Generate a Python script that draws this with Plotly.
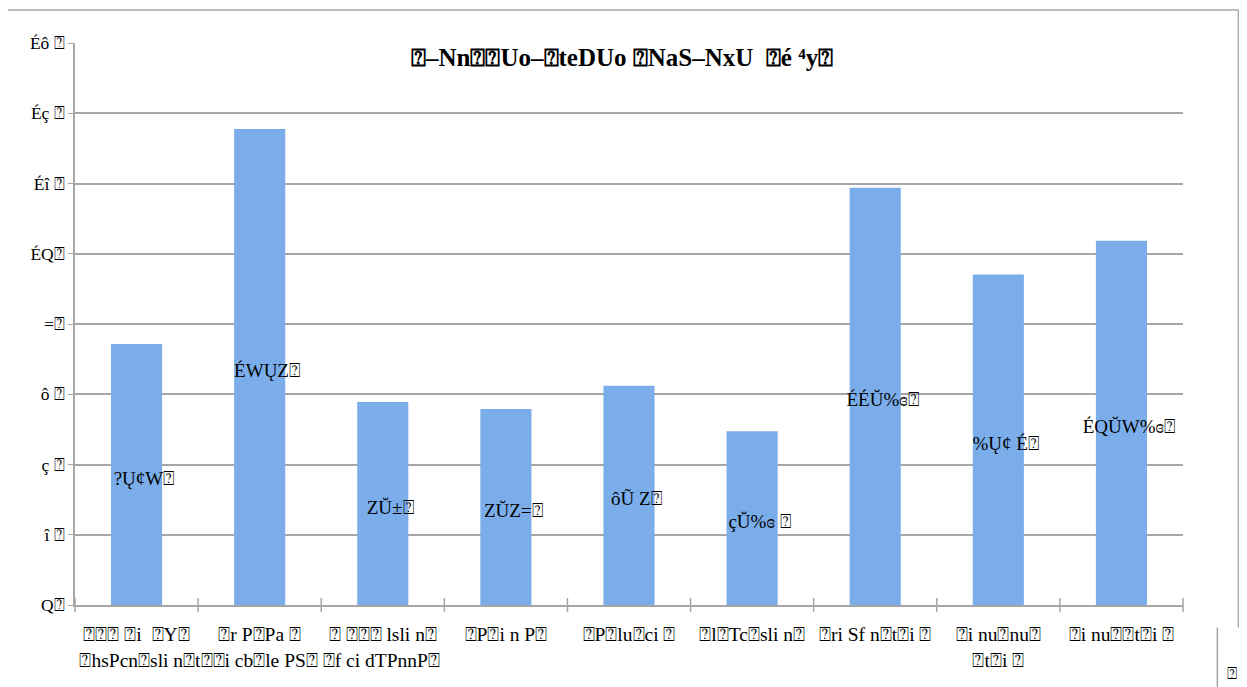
import plotly.graph_objects as go

B = "\u2370"  # missing-glyph box as seen in the reference

categories = [
    f"{B}{B}{B} {B}i  {B}Y{B}",
    f"{B}r P{B}Pa {B}<br>{B}hsPcn{B}sli n{B}t{B}{B}i cb{B}le PS{B} {B}f ci dTPnnP{B}",
    f"{B} {B}{B}{B} lsli n{B}",
    f"{B}P{B}i n P{B}",
    f"{B}P{B}lu{B}ci {B}",
    f"{B}l{B}Tc{B}sli n{B}",
    f"{B}ri Sf n{B}t{B}i {B}",
    f"{B}i nu{B}nu{B}<br>{B}t{B}i {B}",
    f"{B}i nu{B}{B}t{B}i {B}",
]
values = [7.43, 13.55, 5.78, 5.58, 6.24, 4.95, 11.88, 9.41, 10.37]
bar_labels = [
    f"?Ų¢W{B}", f"ÉWŲZ{B}", f"ZŬ±{B}", f"ZŬZ={B}", f"ôŨ Z{B}",
    f"çŬ%ɞ {B}", f"ÉÉŬ%ɞ{B}", f"%Ų¢ É{B}", f"ÉQŬW%ɞ{B}",
]
y_tickvals = [0, 2, 4, 6, 8, 10, 12, 14, 16]
y_ticktext = [f"Q{B}", f"î {B}", f"ç {B}", f"ô {B}", f"={B}",
              f"ÉQ{B}", f"Éî {B}", f"Éç {B}", f"Éô {B}"]
title_text = f"{B}–Nn{B}{B}Uo–{B}teDUo {B}NaS–NxU  {B}é ⁴y{B}"
corner_text = B

x_idx = list(range(len(categories)))

GRID = "#a6a6a6"

fig = go.Figure()
fig.add_trace(go.Bar(
    x=x_idx, y=values,
    marker=dict(color="#7aadea", line=dict(width=0)),
    width=0.415,
    hoverinfo="skip",
))
fig.add_trace(go.Scatter(
    x=[i + 0.06 for i in x_idx], y=[v / 2 - 0.15 for v in values],
    mode="text", text=bar_labels,
    textfont=dict(family="Liberation Serif", size=19, color="#000000"),
    hoverinfo="skip",
))
# category boundary ticks on the x axis
fig.add_trace(go.Scatter(
    x=[i - 0.5 for i in range(len(categories) + 1)],
    y=[0] * (len(categories) + 1), mode="markers",
    marker=dict(symbol="line-ns", size=10, line=dict(color=GRID, width=1.5)),
    hoverinfo="skip", cliponaxis=False,
))

fig.update_layout(
    width=1247, height=687,
    margin=dict(l=67, r=72, t=35, b=90),
    paper_bgcolor="white", plot_bgcolor="white",
    showlegend=False,
    font=dict(family="Liberation Serif", size=17, color="#000000"),
    annotations=[
        dict(text=f"<b>{title_text}</b>", x=0.494, y=0.975, xref="paper", yref="paper",
             xanchor="center", yanchor="middle", showarrow=False,
             font=dict(family="Liberation Serif", size=25, color="#000000")),
        dict(text=corner_text, x=1.044, y=-0.122, xref="paper", yref="paper",
             xanchor="center", yanchor="middle", showarrow=False,
             font=dict(family="Liberation Serif", size=17, color="#000000")),
    ],
    shapes=[
        dict(type="line", xref="paper", yref="paper", x0=-0.07, x1=1.05,
             y0=1.0587, y1=1.0587, line=dict(color=GRID, width=1.5)),
        dict(type="line", xref="paper", yref="paper", x0=1.05, x1=1.05,
             y0=1.0587, y1=-0.04, line=dict(color=GRID, width=1.5)),
        dict(type="line", xref="paper", yref="paper", x0=1.031, x1=1.031,
             y0=-0.04, y1=-0.16, line=dict(color=GRID, width=1.5)),
    ],
)
fig.update_xaxes(
    range=[-0.5, len(categories) - 0.5],
    tickmode="array", tickvals=x_idx, ticktext=categories,
    tickfont=dict(family="Liberation Serif", size=19.5),
    showgrid=False, zeroline=False,
    showline=True, linecolor=GRID, linewidth=1.5,
    ticks="", tickangle=0, ticklabelstandoff=11,
)
fig.update_yaxes(
    range=[0, 16],
    tickmode="array", tickvals=y_tickvals, ticktext=y_ticktext,
    tickfont=dict(family="Liberation Serif", size=17.5),
    showgrid=True, gridcolor=GRID, gridwidth=1.5,
    zeroline=False, showline=True, linecolor=GRID, linewidth=1.5,
    ticks="outside", ticklen=5, tickcolor=GRID,
)

fig.write_html("out.html")
